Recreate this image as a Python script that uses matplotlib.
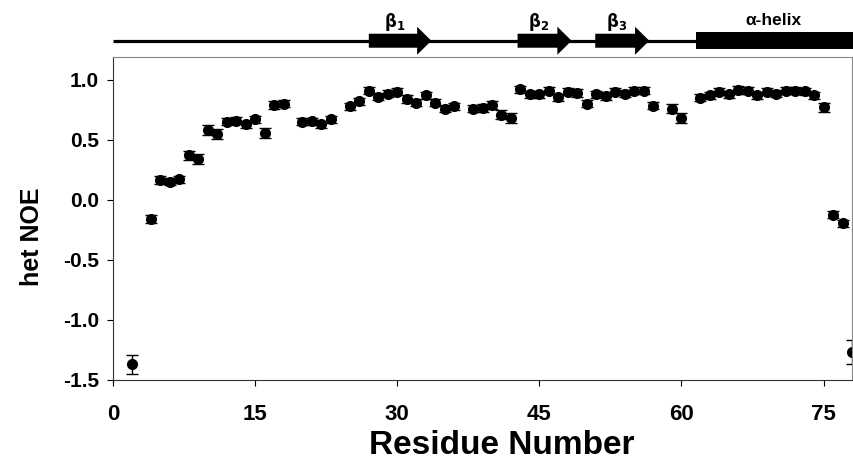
import matplotlib
matplotlib.use('Agg')
import matplotlib.pyplot as plt
from matplotlib.patches import Rectangle

plt.rcParams['font.family'] = ['Liberation Sans', 'DejaVu Sans']
plt.rcParams['font.weight'] = 'bold'

# heteronuclear NOE per residue
residues = [2,
            4, 5, 6, 7, 8, 9, 10, 11, 12, 13, 14, 15, 16, 17, 18,
            20, 21, 22, 23,
            25, 26, 27, 28, 29, 30, 31, 32, 33, 34, 35, 36,
            38, 39, 40, 41, 42, 43, 44, 45, 46, 47, 48, 49, 50, 51, 52, 53, 54, 55, 56, 57,
            59, 60,
            62, 63, 64, 65, 66, 67, 68, 69, 70, 71, 72, 73, 74, 75, 76, 77, 78]
noe = [-1.37,
       -0.16, 0.165, 0.15, 0.17, 0.37, 0.34, 0.58, 0.55, 0.65, 0.66, 0.63, 0.67, 0.555, 0.79, 0.80,
       0.65, 0.655, 0.63, 0.67,
       0.78, 0.82, 0.91, 0.86, 0.885, 0.90, 0.84, 0.81, 0.87, 0.81, 0.76, 0.78,
       0.76, 0.765, 0.79, 0.71, 0.68, 0.92, 0.88, 0.88, 0.91, 0.855, 0.90, 0.89, 0.80, 0.88,
       0.865, 0.90, 0.885, 0.91, 0.91, 0.785,
       0.76, 0.68,
       0.85, 0.87, 0.90, 0.88, 0.915, 0.91, 0.87, 0.90, 0.885, 0.91, 0.91, 0.905, 0.87, 0.77,
       -0.125, -0.195, -1.27]
noe_err = [0.08,
           0.03, 0.03, 0.03, 0.03, 0.04, 0.04, 0.04, 0.04, 0.03, 0.03, 0.03, 0.03, 0.04, 0.03, 0.03,
           0.03, 0.03, 0.03, 0.03,
           0.03, 0.03, 0.03, 0.03, 0.03, 0.03, 0.03, 0.03, 0.03, 0.03, 0.03, 0.03,
           0.03, 0.03, 0.03, 0.04, 0.04, 0.03, 0.03, 0.03, 0.03, 0.03, 0.03, 0.03, 0.03, 0.03,
           0.03, 0.03, 0.03, 0.03, 0.03, 0.03,
           0.04, 0.04,
           0.03, 0.03, 0.03, 0.03, 0.03, 0.03, 0.03, 0.03, 0.03, 0.03, 0.03, 0.03, 0.03, 0.04,
           0.03, 0.03, 0.1]

# secondary structure elements (start, end residue)
strands = [(27, 33.6, '1'), (42.7, 48.4, '2'), (50.9, 56.6, '3')]
helix = (61.5, 78.5, 'α-helix')
xmax = 78

fig = plt.figure(figsize=(8.54, 4.67), dpi=100)
ax = fig.add_axes([0.1323, 0.1863, 0.8654, 0.6917])

ax.errorbar(residues, noe, yerr=noe_err, fmt='o', color='black', ms=7,
            elinewidth=1, capsize=4, capthick=1)
ax.set_xlim(0, xmax)
ax.set_ylim(-1.5, 1.19)
ax.set_xticks([0, 15, 30, 45, 60, 75])
ax.set_yticks([-1.5, -1.0, -0.5, 0.0, 0.5, 1.0])
ax.set_yticklabels(['-1.5', '-1.0', '-0.5', '0.0', '0.5', '1.0'])
ax.tick_params(axis='x', labelsize=16, length=4, pad=13, direction='out')
ax.tick_params(axis='y', labelsize=15, length=4, pad=6, direction='out')
for lab in ax.get_xticklabels() + ax.get_yticklabels():
    lab.set_fontweight('bold')
ax.set_xlabel('Residue Number', fontsize=24, fontweight='bold')
ax.xaxis.set_label_coords(0.526, -0.155)
ax.set_ylabel('het NOE', fontsize=18, fontweight='bold')
ax.yaxis.set_label_coords(-0.094, 0.445)
for side in ['top', 'right']:
    ax.spines[side].set_color('#888888')
for side in ['left', 'bottom']:
    ax.spines[side].set_color('#333333')

# topology diagram above the plot
ts = fig.add_axes([0.1323, 0.8822, 0.8654, 0.107])
ts.set_xlim(0, xmax)
ts.set_ylim(0, 1)
ts.axis('off')
yline = 0.286
ts.plot([0, xmax], [yline, yline], color='black', lw=2.3, solid_capstyle='butt')
for start, end, sub in strands:
    ts.arrow(start, yline, end - start, 0, width=0.28, head_width=0.56,
             head_length=1.5, length_includes_head=True, color='black', lw=0)
    ts.text((start + end) / 2 - 0.6, 0.66, r'$\mathbf{\beta}_{\mathbf{' + sub + '}}$',
            ha='center', va='center', fontsize=12)
ts.add_patch(Rectangle((helix[0], yline - 0.17), helix[1] - helix[0], 0.34,
                       color='black', lw=0, clip_on=False))
ts.text((helix[0] + 78) / 2, 0.70, helix[2], ha='center', va='center',
        fontsize=12.5, fontweight='bold')

fig.savefig('out.png', dpi=100)
